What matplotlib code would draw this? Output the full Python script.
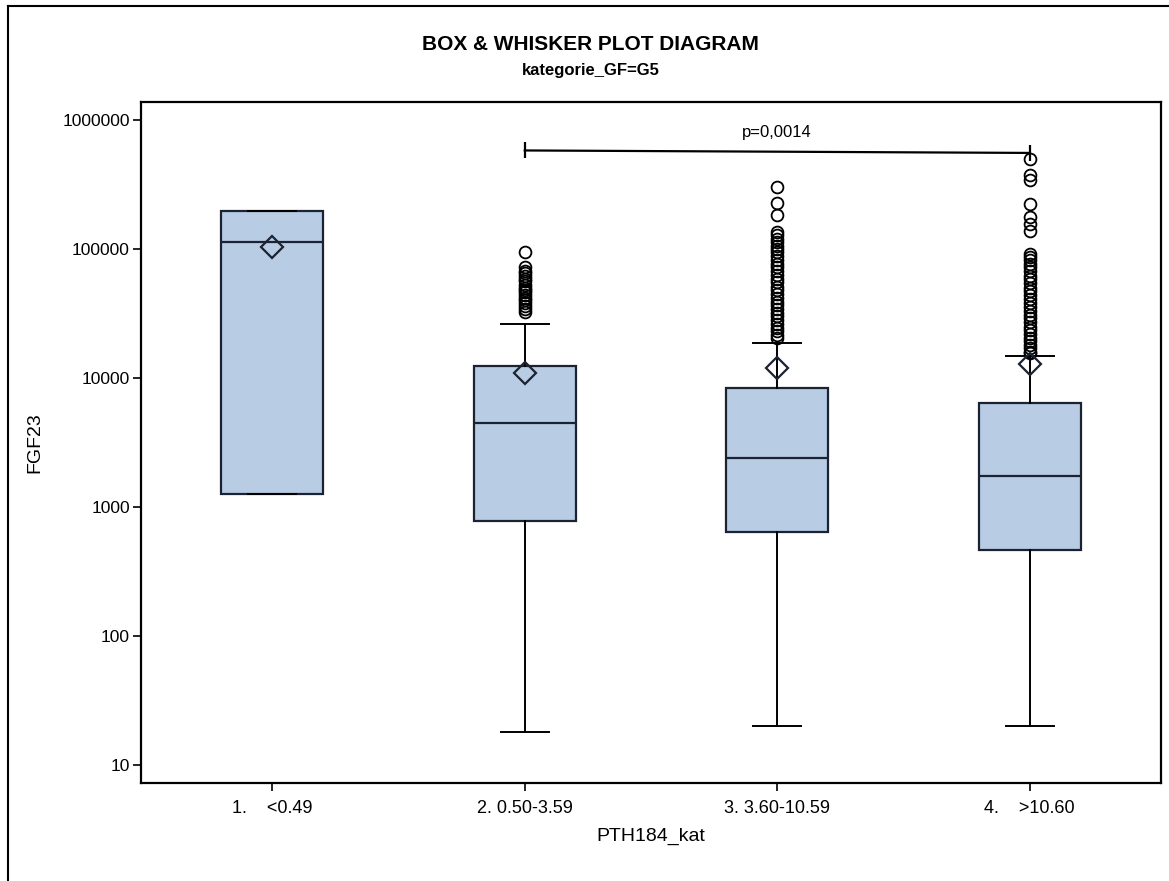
import matplotlib.pyplot as plt
from matplotlib.lines import Line2D
from matplotlib.ticker import FixedLocator, FixedFormatter, NullLocator

# ---------------------------------------------------------
# Data (FGF23 by PTH184 category)
# ---------------------------------------------------------
categories = ['1.    <0.49', '2. 0.50-3.59', '3. 3.60-10.59', '4.    >10.60']
q1 = [1265, 780, 645, 465]
median = [114000, 4500, 2380, 1740]
q3 = [198000, 12400, 8300, 6400]
mean = [103000, 10900, 11900, 12800]
whisker_low = [1265, 18, 20, 20]
whisker_high = [198000, 26400, 18800, 14800]

outliers_1 = []
outliers_2 = [95000, 72000, 68000, 65000, 62000, 59000, 56000, 53000, 50000,
              48000, 46000, 44000, 42000, 40000, 38000, 36000, 34000, 32500]
outliers_3 = [300000, 228000, 182000, 136000, 128000, 120000, 113000, 106000,
              100000, 94000, 88000, 82000, 77000, 72000, 67000, 63000, 59000,
              55000, 51000, 48000, 45000, 42000, 39000, 36500, 34000, 32000,
              30000, 28000, 26000, 24500, 23000, 21500, 20300]
outliers_4 = [500000, 372000, 340000, 222000, 176000, 156000, 137000, 92000,
              87000, 82000, 77000, 72000, 67000, 62000, 58000, 54000, 50000,
              47000, 44000, 41000, 38000, 35500, 33000, 31000, 29000, 27000,
              25000, 23500, 22000, 20500, 19200, 18000, 17000, 16000, 15500]

p_y = [580000, 555000]   # bracket end heights (cat 2 -> cat 4)
p_label = 'p=0,0014'
y_ticks = [10, 100, 1000, 10000, 100000, 1000000]

plt.rcParams['font.family'] = ['Liberation Sans', 'DejaVu Sans']
narrow = ['Liberation Sans Narrow', 'Liberation Sans']

fig = plt.figure(figsize=(11.69, 8.81), dpi=100)
ax = fig.add_axes([141 / 1169, 1 - 783 / 881, 1020 / 1169, 681 / 881])

fliers = [outliers_1, outliers_2, outliers_3, outliers_4]
stats = []
for i, cat in enumerate(categories):
    stats.append(dict(label=cat, q1=q1[i], med=median[i], q3=q3[i], mean=mean[i],
                      whislo=whisker_low[i], whishi=whisker_high[i], fliers=fliers[i]))

edge = '#1b2232'
ax.bxp(stats, positions=range(len(categories)), widths=0.405, patch_artist=True,
       showmeans=True, capwidths=0.19,
       boxprops=dict(facecolor='#b8cce4', edgecolor=edge, linewidth=1.6),
       medianprops=dict(color=edge, linewidth=1.6),
       whiskerprops=dict(color='black', linewidth=1.4),
       capprops=dict(color='black', linewidth=1.4),
       flierprops=dict(marker='o', markerfacecolor='none', markeredgecolor='black',
                       markersize=8.5, markeredgewidth=1.3),
       meanprops=dict(marker='D', markerfacecolor='none', markeredgecolor=edge,
                      markersize=11, markeredgewidth=1.6))

# significance bracket between group 2 and group 4
ax.plot([1, 3], p_y, color='black', linewidth=1.6, marker='|', markersize=11,
        markeredgewidth=1.6)
ax.text(2, 700000, p_label, ha='center', va='bottom', fontsize=12)

ax.set_yscale('log')
ax.set_ylim(10 ** 0.861, 10 ** 6.139)
ax.set_xlim(-0.52, 3.52)
ax.yaxis.set_major_locator(FixedLocator(y_ticks))
ax.yaxis.set_major_formatter(FixedFormatter([str(t) for t in y_ticks]))
ax.yaxis.set_minor_locator(NullLocator())
ax.set_xticks(range(len(categories)))
ax.set_xticklabels(categories, fontsize=13, family=narrow)
ax.tick_params(axis='y', labelsize=12.5, length=6, width=1.2, pad=2)
ax.tick_params(axis='x', length=6, width=1.2, pad=6)
for sp in ax.spines.values():
    sp.set_linewidth(1.6)

ax.set_ylabel('FGF23', fontsize=14, family=narrow, labelpad=14)
ax.set_xlabel('PTH184_kat', fontsize=14, family=narrow, labelpad=8)

fig.text(0.505, 1 - 45 / 881, 'BOX & WHISKER PLOT DIAGRAM', ha='center', va='center',
         fontsize=15, fontweight='bold')
fig.text(0.505, 1 - 70 / 881, 'kategorie_GF=G5', ha='center', va='center',
         fontsize=12, fontweight='bold')

# outer frame (only top and left edges visible in the export)
fig.add_artist(Line2D([8 / 1169, 8 / 1169], [0, 1 - 6 / 881], color='black', lw=1.5))
fig.add_artist(Line2D([8 / 1169, 1], [1 - 6 / 881, 1 - 6 / 881], color='black', lw=1.5))

fig.savefig('out.png', dpi=100)
